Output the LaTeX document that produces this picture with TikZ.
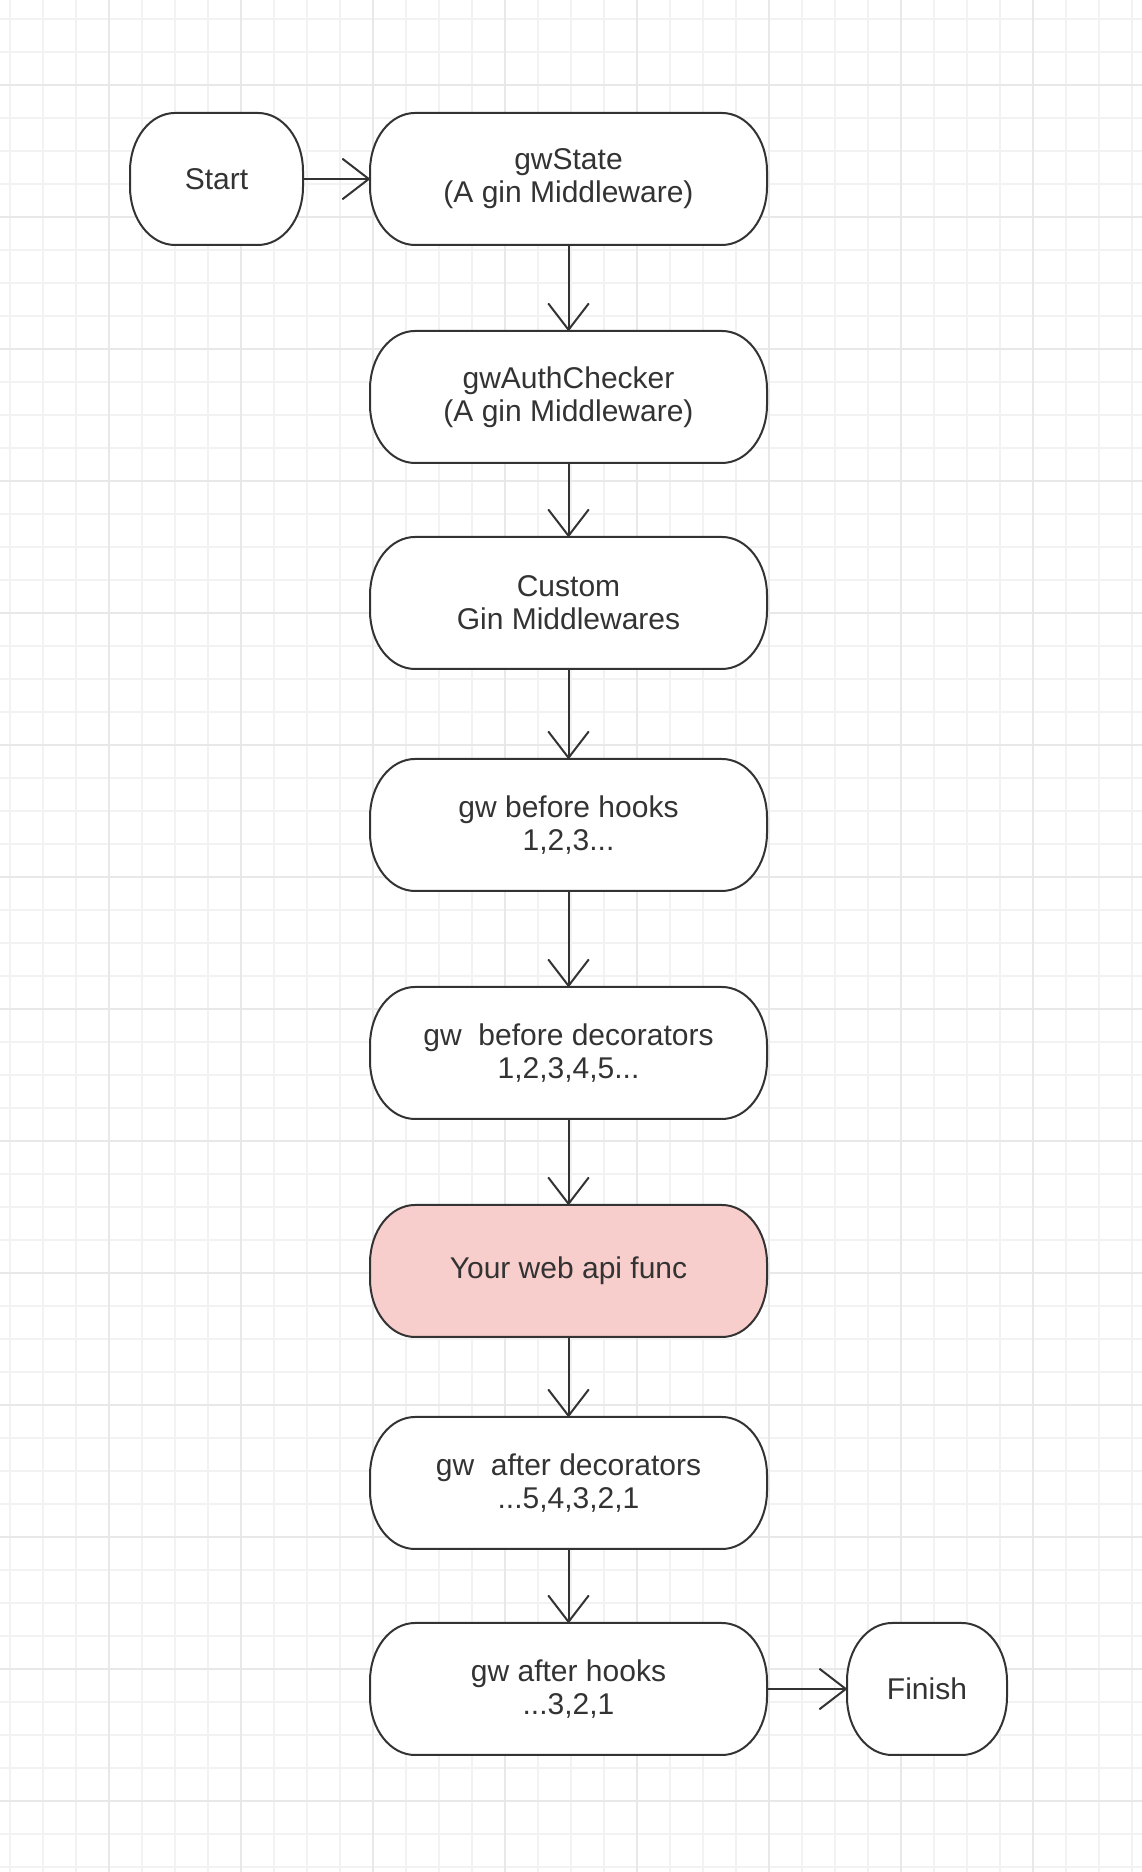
\documentclass[tikz,border=0pt]{standalone}
\usepackage{fontspec}
\setmainfont{Liberation Sans}
\usetikzlibrary{arrows.meta}
\definecolor{ink}{HTML}{333333}
\definecolor{webfill}{HTML}{F8CECC}
\definecolor{gridminor}{HTML}{F2F2F2}
\definecolor{gridmajor}{HTML}{E8E8E8}
\newcommand\termpath[5]{%
  \draw[boxline, fill=#5] ({#1-#3/2+45},{#2+#4/2}) -- ({#1+#3/2-45},{#2+#4/2})
    arc[start angle=90,end angle=0,x radius=45,y radius=58]
    -- ({#1+#3/2},{#2-#4/2+58})
    arc[start angle=0,end angle=-90,x radius=45,y radius=58]
    -- ({#1-#3/2+45},{#2-#4/2})
    arc[start angle=270,end angle=180,x radius=45,y radius=58]
    -- ({#1-#3/2},{#2+#4/2-58})
    arc[start angle=180,end angle=90,x radius=45,y radius=58] -- cycle;
}
\begin{document}
\begin{tikzpicture}[x=1pt,y=1pt,
  boxline/.style={draw=ink, line width=2pt},
  termnode/.style={inner sep=0pt, align=center, text=ink,
    font=\fontsize{30}{33}\selectfont, minimum height=132pt},
  flow/.style={draw=ink, line width=2pt, -{Straight Barb[length=26pt,width=40pt,round]}}
]
\useasboundingbox (0,0) rectangle (1142,1872);
\fill[white] (0,0) rectangle (1142,1872);
% grid
\foreach \k in {0,...,34} {
  \draw[gridminor, line width=1.4pt] ({10+33*\k},0) -- ({10+33*\k},1872);
}
\foreach \k in {0,...,56} {
  \draw[gridminor, line width=1.4pt] (0,{1872-19-33*\k}) -- (1142,{1872-19-33*\k});
}
\foreach \k in {0,...,7} {
  \draw[gridmajor, line width=1.8pt] ({109+132*\k},0) -- ({109+132*\k},1872);
}
\foreach \k in {0,...,13} {
  \draw[gridmajor, line width=1.8pt] (0,{1872-85-132*\k}) -- (1142,{1872-85-132*\k});
}
% shapes
\termpath{216.5}{1693}{173}{132}{white}
\termpath{568.5}{1693}{397}{132}{white}
\termpath{568.5}{1475}{397}{132}{white}
\termpath{568.5}{1269}{397}{132}{white}
\termpath{568.5}{1047}{397}{132}{white}
\termpath{568.5}{819}{397}{132}{white}
\termpath{568.5}{601}{397}{132}{webfill}
\termpath{568.5}{389}{397}{132}{white}
\termpath{568.5}{183}{397}{132}{white}
\termpath{927}{183}{160}{132}{white}
% nodes
\node[termnode, minimum width=173pt] (start) at (216.5,1693) {Start};
\node[termnode, minimum width=397pt] (state) at (568.5,1693) {gwState\\(A gin Middleware)};
\node[termnode, minimum width=397pt] (auth) at (568.5,1475) {gwAuthChecker\\(A gin Middleware)};
\node[termnode, minimum width=397pt] (custom) at (568.5,1269) {Custom\\Gin Middlewares};
\node[termnode, minimum width=397pt] (bhooks) at (568.5,1047) {gw before hooks\\1,2,3...};
\node[termnode, minimum width=397pt] (bdec) at (568.5,819) {gw~~before decorators\\1,2,3,4,5...};
\node[termnode, minimum width=397pt] (web) at (568.5,601) {Your web api func};
\node[termnode, minimum width=397pt] (adec) at (568.5,389) {gw~~after decorators\\...5,4,3,2,1};
\node[termnode, minimum width=397pt] (ahooks) at (568.5,183) {gw after hooks\\...3,2,1};
\node[termnode, minimum width=160pt] (finish) at (927,183) {Finish};
% connectors
\draw[flow] (start) -- (state);
\draw[flow] (state) -- (auth);
\draw[flow] (auth) -- (custom);
\draw[flow] (custom) -- (bhooks);
\draw[flow] (bhooks) -- (bdec);
\draw[flow] (bdec) -- (web);
\draw[flow] (web) -- (adec);
\draw[flow] (adec) -- (ahooks);
\draw[flow] (ahooks) -- (finish);
\end{tikzpicture}
\end{document}
